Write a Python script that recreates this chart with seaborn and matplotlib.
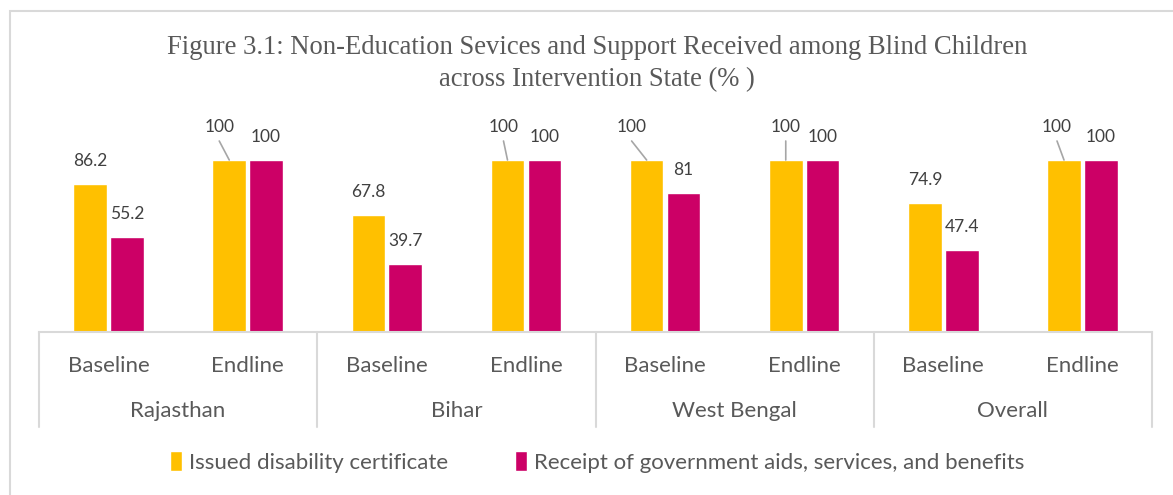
import matplotlib
matplotlib.use("Agg")
from matplotlib import pyplot as plt
from matplotlib.patches import Rectangle
import pandas as pd
import seaborn as sns

# data
states = ["Rajasthan", "Bihar", "West Bengal", "Overall"]
periods = ["Baseline", "Endline"]
series = ["Issued disability certificate",
          "Receipt of government aids, services, and benefits"]
certificate = [86.2, 100, 67.8, 100, 100, 100, 74.9, 100]
aids = [55.2, 100, 39.7, 100, 81, 100, 47.4, 100]

colors = ["#FFC000", "#CC0066"]
text_col = "#595959"
grid_col = "#D9D9D9"

rows = []
for i, (s, p) in enumerate([(s, p) for s in states for p in periods]):
    rows.append({"cat": s + "|" + p, "series": series[0], "value": certificate[i]})
    rows.append({"cat": s + "|" + p, "series": series[1], "value": aids[i]})
df = pd.DataFrame(rows)
cats = list(dict.fromkeys(df["cat"]))

sns.set_style("white")
plt.rcParams["font.family"] = ["Lato", "DejaVu Sans"]

W, H = 1173, 495
fig = plt.figure(figsize=(W / 100, H / 100), dpi=100)

# outer chart border
fig.patches.append(Rectangle((10 / W, -0.1), 1.2, (H - 11) / H + 0.1,
                             transform=fig.transFigure, fill=False,
                             edgecolor=grid_col, lw=1.5))

y_top = 110
px_per_unit = 1.72
ax_h = y_top * px_per_unit
ax = fig.add_axes([39 / W, (H - 332) / H, (1152 - 39) / W, ax_h / H])

sns.barplot(data=df, x="cat", y="value", hue="series", order=cats,
            hue_order=series, palette=colors, width=0.53, gap=0.09,
            saturation=1, ax=ax, legend=True)

ax.set_xlim(-0.5, len(cats) - 0.5)
ax.set_ylim(0, y_top)
ax.set_xlabel("")
ax.set_ylabel("")
ax.set_yticks([])
ax.set_xticks([])
for sp in ["left", "right", "top"]:
    ax.spines[sp].set_visible(False)
ax.spines["bottom"].set_color(grid_col)
ax.spines["bottom"].set_linewidth(1.5)

# value labels; 100% certificate labels are pulled up with leader lines
nudge = {1: -10, 3: -4, 4: -15, 5: 0, 7: -7}
for k, cont in enumerate(ax.containers):
    for i, bar in enumerate(cont):
        v = bar.get_height()
        xc = bar.get_x() + bar.get_width() / 2
        lab = f"{v:g}"
        if k == 0 and i in nudge:
            dx = nudge[i]
            ax.annotate("", xy=(xc, v), xytext=(dx, 19),
                        textcoords="offset pixels",
                        arrowprops=dict(arrowstyle="-", color="#A6A6A6",
                                        lw=1.2, shrinkA=0, shrinkB=0))
            ax.annotate(lab, xy=(xc, v), xytext=(dx, 33),
                        textcoords="offset pixels", ha="center", va="center",
                        fontsize=12.5, color="#404040", annotation_clip=False)
        else:
            ax.annotate(lab, xy=(xc, v), xytext=(0, 23),
                        textcoords="offset pixels", ha="center", va="center",
                        fontsize=12.5, color="#404040", annotation_clip=False)

# two-level category axis
xt = ax.get_xaxis_transform()
for i, c in enumerate(cats):
    ax.text(i, -34 / ax_h, c.split("|")[1], transform=xt, ha="center",
            va="center", fontsize=16, color=text_col)
for j, s in enumerate(states):
    ax.text(2 * j + 0.5, -79 / ax_h, s, transform=xt, ha="center",
            va="center", fontsize=16, color=text_col)
for j in range(len(states) + 1):
    ax.plot([2 * j - 0.5, 2 * j - 0.5], [0, -95 / ax_h], transform=xt,
            color=grid_col, lw=1.5, clip_on=False)

# title
fig.text(0.509, (H - 48) / H,
         "Figure 3.1: Non-Education Sevices and Support Received among Blind Children",
         ha="center", va="center", fontsize=19.2, color=text_col,
         family="Liberation Serif")
fig.text(0.509, (H - 80) / H, "across Intervention State (% )",
         ha="center", va="center", fontsize=19.2, color=text_col,
         family="Liberation Serif")

# legend
handles, labels = ax.get_legend_handles_labels()
ax.get_legend().remove()
fig.legend(handles, labels, loc="center", bbox_to_anchor=(0.509, (H - 462) / H),
           ncol=2, frameon=False, fontsize=16, labelcolor=text_col,
           handlelength=0.55, handleheight=1.0, handletextpad=0.3,
           columnspacing=3.0)

fig.savefig("out.png", dpi=100)
